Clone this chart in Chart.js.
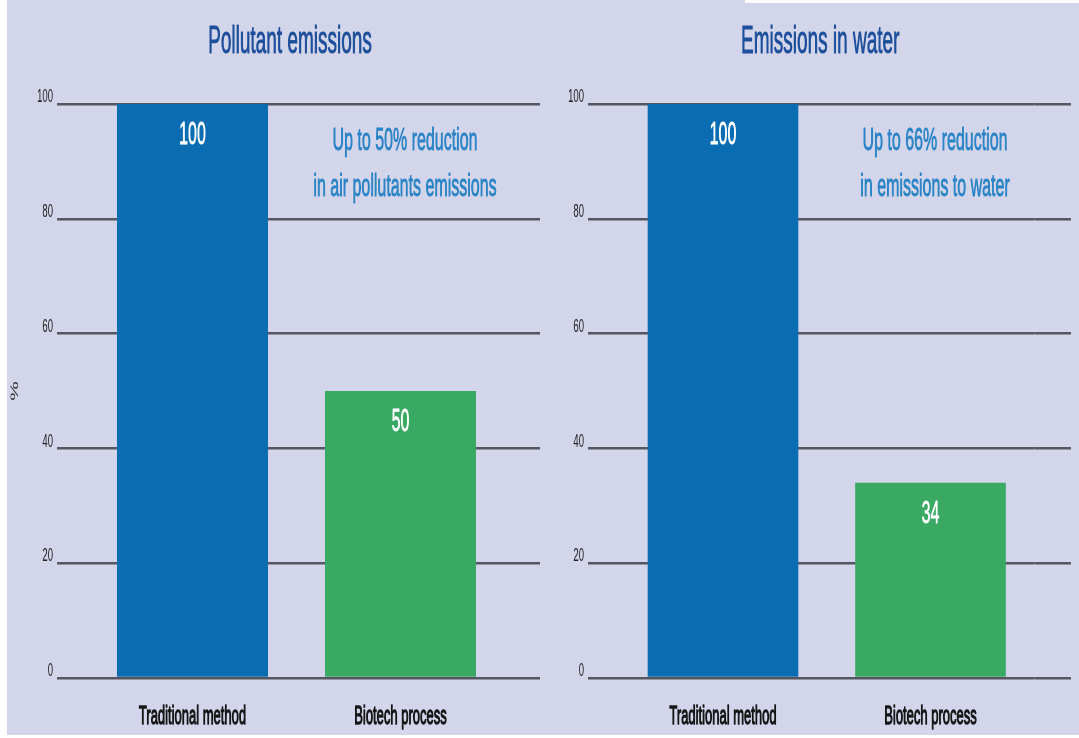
<!DOCTYPE html>
<html>
<head>
<meta charset="utf-8">
<script src="https://cdn.jsdelivr.net/npm/chart.js@4/dist/chart.umd.min.js"></script>
<style>
  html, body { margin: 0; padding: 0; background: #fff; overflow: hidden; }
  body { width: 1079px; height: 738px; position: relative; }
  #fondo { position: absolute; left: 7px; top: 0; width: 1072px; height: 735px; background: #d3d5ea; }
  #recorte { position: absolute; left: 745px; top: 0; width: 334px; height: 3px; background: #fff; }
  /* the canvas is drawn twice as wide and squeezed back, which gives the narrow lettering */
  .panel { position: absolute; top: 0; height: 738px; transform: scaleX(0.5); transform-origin: 0 0; }
  #panel-aire { left: 0; width: 1080px; }
  #panel-agua { left: 540px; width: 1078px; }
</style>
</head>
<body>
<div id="fondo"></div>
<div id="recorte"></div>
<div class="panel" id="panel-aire"><canvas id="grafico-aire"></canvas></div>
<div class="panel" id="panel-agua"><canvas id="grafico-agua"></canvas></div>

<script>
// datos
const categorias = ['Traditional method', 'Biotech process'];
const emisionesAire = [100, 50];
const emisionesAgua = [100, 34];
const marcasY = [0, 20, 40, 60, 80, 100];
const titulos = ['Pollutant emissions', 'Emissions in water'];
const notaAire = ['Up to 50% reduction', 'in air pollutants emissions'];
const notaAgua = ['Up to 66% reduction', 'in emissions to water'];

const FUENTE = '"Liberation Sans", Arial, sans-serif';
const AZUL = '#0b6db1';
const VERDE = '#3aa963';
const GRIS_LINEA = '#55565f';

// texto con trazo del mismo color para darle algo mas de cuerpo
function textoGrueso(ctx, texto, x, y, color, grosor) {
    ctx.fillStyle = color;
    ctx.strokeStyle = color;
    ctx.lineWidth = grosor;
    ctx.lineJoin = 'round';
    ctx.strokeText(texto, x, y);
    ctx.fillText(texto, x, y);
}

// titulo, valores sobre las barras, nota explicativa y nombres de categoria
const textosPanel = {
    id: 'textosPanel',
    afterDatasetsDraw(chart, args, opts) {
        const { ctx, chartArea, scales } = chart;
        ctx.save();
        ctx.textAlign = 'center';

        ctx.font = '38px ' + FUENTE;
        ctx.textBaseline = 'alphabetic';
        textoGrueso(ctx, opts.titulo, (chartArea.left + chartArea.right) / 2 - 13, 53, '#1d4f9b', 0.9);

        ctx.font = '32px ' + FUENTE;
        ctx.textBaseline = 'middle';
        const meta = chart.getDatasetMeta(0);
        meta.data.forEach((barra, i) => {
            textoGrueso(ctx, String(chart.data.datasets[0].data[i]), barra.x, barra.y + 31, '#ffffff', 0.8);
        });

        const xNota = scales.x.getPixelForValue(1) + 9;
        opts.nota.forEach((linea, i) => {
            textoGrueso(ctx, linea, xNota, chartArea.top + 37 + i * 46, '#2b84c6', 0.9);
        });

        ctx.font = '26px ' + FUENTE;
        categorias.forEach((cat, i) => {
            textoGrueso(ctx, cat, scales.x.getPixelForValue(i), chartArea.bottom + 39, '#161616', 1.3);
        });
        ctx.restore();
    }
};

function crearGrafico(id, valores, titulo, nota, medidas) {
    const ctx = document.getElementById(id).getContext('2d');
    const ponerTicks = s => { s.ticks = marcasY.map(v => ({ value: v })); };

    return new Chart(ctx, {
        type: 'bar',
        data: {
            labels: categorias,
            datasets: [{
                data: valores,
                backgroundColor: [AZUL, VERDE],
                borderWidth: 0,
                categoryPercentage: 1,
                barPercentage: 0.726
            }]
        },
        options: {
            responsive: true,
            maintainAspectRatio: false,
            animation: false,
            layout: { padding: { top: 104, bottom: 0, left: 0, right: 0 } },
            plugins: {
                legend: { display: false },
                tooltip: { enabled: false },
                textosPanel: { titulo: titulo, nota: nota }
            },
            scales: {
                x: {
                    afterFit: s => { s.height = 60; },
                    grid: { display: false, drawTicks: false },
                    border: { display: false },
                    ticks: { display: false }
                },
                y: {
                    min: 0,
                    max: 100,
                    afterBuildTicks: ponerTicks,
                    afterFit: s => { s.width = medidas.anchoY; },
                    border: { display: false },
                    grid: { color: GRIS_LINEA, lineWidth: 2.5, tickLength: medidas.marcaY },
                    ticks: {
                        color: '#222',
                        padding: 8,
                        labelOffset: -7,
                        font: { family: FUENTE, size: 19 }
                    },
                    title: {
                        display: medidas.conTitulo,
                        text: '%',
                        color: '#333',
                        font: { family: FUENTE, size: 22 },
                        padding: { top: 17, bottom: 0 }
                    }
                },
                // eje derecho sin texto: solo prolonga las lineas hasta el borde
                y2: {
                    position: 'right',
                    min: 0,
                    max: 100,
                    afterBuildTicks: ponerTicks,
                    afterFit: s => { s.width = medidas.anchoDer; },
                    border: { display: false },
                    grid: { color: GRIS_LINEA, lineWidth: 2.5, drawOnChartArea: false, tickLength: medidas.marcaDer },
                    ticks: { display: false }
                }
            }
        },
        plugins: [textosPanel]
    });
}

document.addEventListener('DOMContentLoaded', () => {
    crearGrafico('grafico-aire', emisionesAire, titulos[0], notaAire,
        { anchoY: 177, marcaY: 63, anchoDer: 71, marcaDer: 71, conTitulo: true });
    crearGrafico('grafico-agua', emisionesAgua, titulos[1], notaAgua,
        { anchoY: 158.5, marcaY: 62.5, anchoDer: 89.5, marcaDer: 73.5, conTitulo: false });
});
</script>
</body>
</html>
